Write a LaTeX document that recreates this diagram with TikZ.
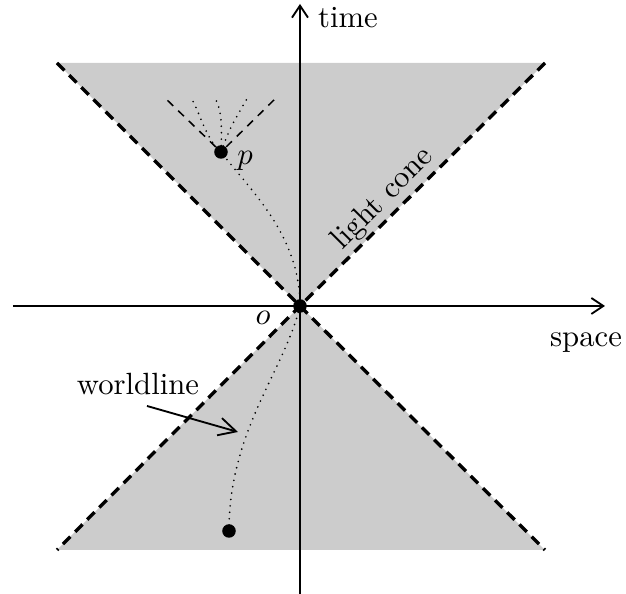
\documentclass[tikz,border=0pt]{standalone}
\usetikzlibrary{arrows.meta}
\begin{document}
\begin{tikzpicture}[x=0.3257pt,y=-0.3257pt,
  axis/.style={line width=0.6pt,-{Straight Barb[length=3.9pt,width=5.2pt]}},
  pointer/.style={line width=0.6pt,-{Straight Barb[length=5.6pt,width=5.8pt]}},
  conedash/.style={line width=1.1pt,dash pattern=on 3.4pt off 2.2pt},
  smalldash/.style={line width=0.5pt,dash pattern=on 2.6pt off 2.2pt},
  wline/.style={line width=0.6pt,dash pattern=on 0pt off 2.1pt,line cap=round},
  event/.style={circle,fill=black,inner sep=0pt,minimum size=4.4pt},
  conefill/.style={fill=black!20},
  lbl/.style={inner sep=0pt}]
\useasboundingbox (0,0) rectangle (626,594);
% cone corners
\coordinate (tl) at (57,63);
\coordinate (tr) at (545,63);
\coordinate (bl) at (57,550);
\coordinate (br) at (545,550);
\coordinate (O) at (300,306);
\fill[conefill] (tl) -- (tr) -- (O) -- cycle;
\fill[conefill] (bl) -- (br) -- (O) -- cycle;
% axes
\coordinate (xs) at (13,306);
\coordinate (xe) at (605,306);
\coordinate (ys) at (300,596);
\coordinate (ye) at (300,4);
\draw[axis] (xs) -- (xe);
\draw[axis] (ys) -- (ye);
% light cone
\draw[conedash] (tl) -- (O) -- (br);
\draw[conedash] (tr) -- (O) -- (bl);
% events
\node[event] (o) at (O) {};
\node[event] (p) at (221,152) {};
\node[event] (q) at (229,531) {};
% small cone at p
\coordinate (pl) at (164,97);
\coordinate (pr) at (278,96);
\draw[smalldash] (p) -- (pl);
\draw[smalldash] (p) -- (pr);
% future worldlines from p
\coordinate (f1) at (191,98);
\coordinate (f2) at (215,98);
\coordinate (f3) at (248,97);
\draw[wline] (p.center) .. controls (205,138) and (200,112) .. (f1);
\draw[wline] (p.center) .. controls (222,128) and (222,110) .. (f2);
\draw[wline] (p.center) .. controls (230,128) .. (f3);
% worldline
\draw[wline] (o.center) .. controls (300,235) and (250,190) .. (p.center);
\draw[wline] (o.center) .. controls (285,370) and (229,430) .. (q.center);
% labels
\node[lbl,anchor=base] (tlab) at (348,28) {time};
\node[lbl,anchor=base] (slab) at (586,347) {space};
\node[lbl,anchor=base] (olab) at (263,325) {$o$};
\node[lbl,anchor=base] (plab) at (245,165) {$p$};
\node[lbl,anchor=base] (wl) at (138,395) {worldline};
\coordinate (wlstart) at (147,406);
\coordinate (wlend) at (238,432);
\draw[pointer] (wlstart) -- (wlend);
\node[rotate=45,inner sep=0pt] (lc) at (383,199) {light cone};
\end{tikzpicture}
\end{document}
